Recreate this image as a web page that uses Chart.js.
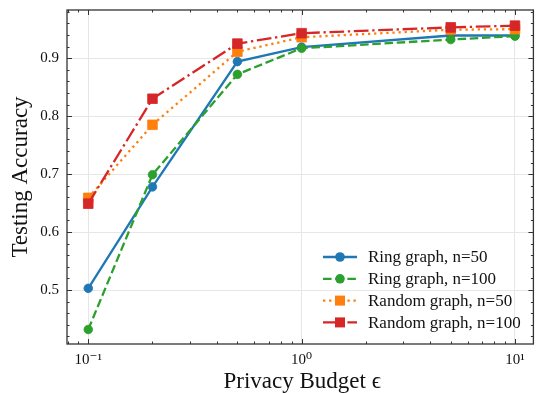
<!DOCTYPE html>
<html>
<head>
<meta charset="utf-8">
<script src="https://cdn.jsdelivr.net/npm/chart.js@4.4.0/dist/chart.umd.min.js"></script>
<style>
  html, body { margin: 0; padding: 0; background: #fff; }
  canvas { display: block; }
</style>
</head>
<body>
<canvas id="chart" width="541" height="393"></canvas>
<script>
// privacy budget values (x) and accuracy per setting
const epsilons = [0.1, 0.2, 0.5, 1, 5, 10];
const ringN50 = [0.503, 0.678, 0.894, 0.919, 0.939, 0.939];
const ringN100 = [0.432, 0.699, 0.872, 0.917, 0.932, 0.938];
const randomN50 = [0.659, 0.785, 0.911, 0.936, 0.949, 0.950];
const randomN100 = [0.649, 0.830, 0.925, 0.943, 0.953, 0.956];

const xTicks = [0.1, 1, 10];
const yTicks = [0.5, 0.6, 0.7, 0.8, 0.9];
const xTickLabels = ["10\u207B\u00B9", "10\u2070", "10\u00B9"];
const xTitle = "Privacy Budget \u03F5";
const yTitle = "Testing Accuracy";

const FONT = "'Liberation Serif', 'DejaVu Serif', serif";

function pts(ys) {
  return epsilons.map((x, i) => ({ x: x, y: ys[i] }));
}

// frame, inward ticks, axis titles and legend (matplotlib look)
const framePlugin = {
  id: "frame",
  afterDraw(chart) {
    const ctx = chart.ctx;
    const a = chart.chartArea;
    const xs = chart.scales.x;
    const ys = chart.scales.y;
    ctx.save();
    ctx.strokeStyle = "#333";
    ctx.lineWidth = 1;

    const tick = (x1, y1, x2, y2) => {
      ctx.beginPath();
      ctx.moveTo(x1, y1);
      ctx.lineTo(x2, y2);
      ctx.stroke();
    };

    // x ticks
    for (let e = -2; e <= 1; e++) {
      for (let k = 1; k <= 9; k++) {
        const v = k * Math.pow(10, e);
        if (v < xs.min || v > xs.max) continue;
        const px = Math.round(xs.getPixelForValue(v)) + 0.5;
        const len = k === 1 ? 5 : 2.5;
        tick(px, a.bottom, px, a.bottom - len);
        tick(px, a.top, px, a.top + len);
      }
    }
    // y ticks
    for (let i = 21; i <= 49; i++) {
      const v = i / 50;
      if (v < ys.min || v > ys.max) continue;
      const py = Math.round(ys.getPixelForValue(v)) + 0.5;
      const len = i % 5 === 0 ? 5 : 2.5;
      tick(a.left, py, a.left + len, py);
      tick(a.right, py, a.right - len, py);
    }

    ctx.lineWidth = 1.3;
    ctx.strokeRect(a.left, a.top, a.right - a.left, a.bottom - a.top);

    // axis titles
    ctx.fillStyle = "#111";
    ctx.font = "23px " + FONT;
    ctx.textAlign = "center";
    ctx.textBaseline = "middle";
    ctx.fillText(xTitle, (a.left + a.right) / 2 + 2, 382);
    ctx.save();
    ctx.translate(21, (a.top + a.bottom) / 2);
    ctx.rotate(-Math.PI / 2);
    ctx.fillText(yTitle, 0, 0);
    ctx.restore();

    // legend
    const lx = 323, lw = 34, tx = 368;
    let ly = 257;
    chart.data.datasets.forEach((ds) => {
      ctx.strokeStyle = ds.borderColor;
      ctx.lineWidth = ds.borderWidth;
      ctx.lineCap = "butt";
      ctx.setLineDash(ds.borderDash || []);
      ctx.beginPath();
      ctx.moveTo(lx, ly);
      ctx.lineTo(lx + lw, ly);
      ctx.stroke();
      ctx.setLineDash([]);
      ctx.fillStyle = ds.borderColor;
      const mx = lx + lw / 2;
      if (ds.pointStyle === "rect") {
        ctx.fillRect(mx - 5, ly - 5, 10, 10);
      } else {
        ctx.beginPath();
        ctx.arc(mx, ly, 4.8, 0, Math.PI * 2);
        ctx.fill();
      }
      ctx.fillStyle = "#111";
      ctx.font = "17px " + FONT;
      ctx.textBaseline = "middle";
      ctx.textAlign = "left";
      ctx.fillText(ds.label, tx, ly + 1);
      ly += 21.8;
    });
    ctx.restore();
  }
};

function series(label, data, color, dash, style, order) {
  return {
    label: label,
    data: pts(data),
    borderColor: color,
    backgroundColor: color,
    borderWidth: 2.3,
    borderDash: dash,
    borderCapStyle: "butt",
    pointStyle: style,
    pointRadius: style === "rect" ? 6.8 : 4.3,
    pointBorderWidth: 0.8,
    pointBackgroundColor: color,
    pointBorderColor: color,
    tension: 0,
    order: order
  };
}

new Chart(document.getElementById("chart"), {
  type: "line",
  data: {
    datasets: [
      series("Ring graph, n=50", ringN50, "#1f77b4", [], "circle", 3),
      series("Ring graph, n=100", ringN100, "#2ca02c", [8.5, 3.7], "circle", 2),
      series("Random graph, n=50", randomN50, "#ff7f0e", [2.3, 3.8], "rect", 1),
      series("Random graph, n=100", randomN100, "#d62728", [14.7, 3.7, 2.3, 3.7], "rect", 0)
    ]
  },
  options: {
    responsive: false,
    animation: false,
    devicePixelRatio: 1,
    layout: { padding: { left: 0, right: 6, top: 10, bottom: 0 } },
    plugins: {
      legend: { display: false },
      tooltip: { enabled: false }
    },
    scales: {
      x: {
        type: "logarithmic",
        min: 0.0795,
        max: 12.2,
        afterBuildTicks(scale) {
          scale.ticks = xTicks.map((v) => ({ value: v }));
        },
        afterFit(scale) {
          scale.height = 49;
          scale.paddingLeft = 0;
          scale.paddingRight = 0;
        },
        grid: { color: "#e6e6e6", lineWidth: 1, drawTicks: false },
        border: { display: false },
        ticks: {
          padding: 7,
          color: "#111",
          font: { family: FONT, size: 15 },
          maxRotation: 0,
          callback: (v) => {
            const i = xTicks.indexOf(v);
            return i >= 0 ? xTickLabels[i] : "";
          }
        }
      },
      y: {
        min: 0.407,
        max: 0.983,
        afterBuildTicks(scale) {
          scale.ticks = yTicks.map((v) => ({ value: v }));
        },
        afterFit(scale) {
          scale.width = 67;
          scale.paddingTop = 0;
          scale.paddingBottom = 0;
        },
        grid: { color: "#e6e6e6", lineWidth: 1, drawTicks: false },
        border: { display: false },
        ticks: {
          padding: 8,
          color: "#111",
          font: { family: FONT, size: 15 },
          callback: (v) => v.toFixed(1)
        }
      }
    }
  },
  plugins: [framePlugin]
});
</script>
</body>
</html>
